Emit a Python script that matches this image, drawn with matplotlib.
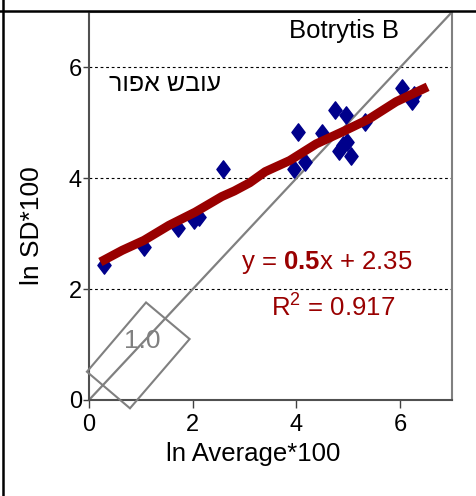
import matplotlib
matplotlib.use("Agg")
import matplotlib.pyplot as plt
from matplotlib.patches import Polygon
from matplotlib.lines import Line2D
from matplotlib.path import Path

plt.rcParams['font.family'] = ['Liberation Sans', 'DejaVu Sans']
plt.rcParams['mathtext.fontset'] = 'custom'
plt.rcParams['mathtext.rm'] = 'Liberation Sans'
plt.rcParams['mathtext.bf'] = 'Liberation Sans:bold'
plt.rcParams['mathtext.it'] = 'Liberation Sans:italic'

# ---- data ----
ln_avg = [0.29, 1.06, 1.72, 2.02, 2.13, 2.58, 3.95, 4.03, 4.17, 4.49, 4.75,
          4.83, 4.90, 4.98, 4.96, 5.05, 5.33, 6.03, 6.22, 6.27]
ln_sd = [2.43, 2.76, 3.10, 3.24, 3.30, 4.16, 4.17, 4.83, 4.29, 4.82, 5.23,
         4.50, 4.60, 4.66, 5.15, 4.41, 5.01, 5.63, 5.39, 5.50]

smooth_x = [0.22, 0.64, 1.06, 1.54, 2.05, 2.56, 2.80, 3.10, 3.40, 3.87, 4.38,
            4.89, 5.40, 5.92, 6.53]
smooth_y = [2.49, 2.70, 2.88, 3.15, 3.39, 3.67, 3.77, 3.92, 4.12, 4.32, 4.62,
            4.84, 5.07, 5.38, 5.65]

identity_x = [0, 7]
identity_y = [0, 7]

slope_box_x = [1.10, 1.94, 0.79, -0.04]
slope_box_y = [1.76, 1.10, -0.15, 0.51]

x_ticks = [0, 2, 4, 6]
y_ticks = [0, 2, 4, 6]
grid_y = [2, 4, 6]

title = "Botrytis B"
hebrew = "עובש אפור"[::-1]
eq_text = r"y = $\mathbf{0.5}$x + 2.35"
r2_text = r"R$^{\mathregular{2}}$ = 0.917"
x_label = "ln Average*100"
y_label = "ln SD*100"

# ---- figure ----
W, H = 477, 496
fig = plt.figure(figsize=(W / 100, H / 100), dpi=100)
ax = fig.add_axes([89 / W, 1 - 400 / H, (452 - 89) / W, (400 - 12) / H])
ax.set_xlim(0, 7)
ax.set_ylim(0, 7)

for y in grid_y:
    ax.axhline(y, color='black', lw=0.8, ls=(0, (2.5, 2.5)), zorder=1)

ax.plot(identity_x, identity_y, color='#808080', lw=1.6, zorder=2)

diamond = Path([(0, 0.5), (0.38, 0), (0, -0.5), (-0.38, 0), (0, 0.5)],
               [Path.MOVETO, Path.LINETO, Path.LINETO, Path.LINETO, Path.CLOSEPOLY])
ax.plot(ln_avg, ln_sd, ls='none', marker=diamond, ms=12.5, color='#00008B',
        mec='#00008B', zorder=3)

ax.plot(smooth_x, smooth_y, color='#990000', lw=6.5, solid_capstyle='butt',
        solid_joinstyle='round', zorder=4)

box = Polygon(list(zip(slope_box_x, slope_box_y)), closed=True, fill=False,
              edgecolor='#808080', lw=1.5, clip_on=False, zorder=5)
ax.add_patch(box)
ax.text(1.02, 1.06, "1.0", color='#808080', fontsize=19, ha='center',
        va='center', zorder=5)

for s in ax.spines.values():
    s.set_color('#808080')
    s.set_linewidth(1.5)
ax.spines['left'].set_color('#505050')
ax.spines['bottom'].set_color('#505050')

ax.set_xticks(x_ticks)
ax.set_yticks(y_ticks)
ax.tick_params(axis='x', direction='out', length=6, width=1, color='#404040',
               labelsize=17, pad=4)
ax.tick_params(axis='y', direction='out', length=4, width=1, color='#404040',
               labelsize=17, pad=1)

fig.text(344 / W, 1 - 31 / H, title, fontsize=18.5, ha='center', va='center')
fig.text(165 / W, 1 - 84 / H, hebrew, fontsize=18, ha='center', va='center')
fig.text(327 / W, 1 - 263 / H, eq_text, fontsize=18.5, ha='center',
         va='center', color='#990000')
fig.text(333 / W, 1 - 308 / H, r2_text, fontsize=18.5, ha='center',
         va='center', color='#990000')
fig.text(253 / W, 1 - 454 / H, x_label, fontsize=18.5, ha='center', va='center')
fig.text(32 / W, 1 - 226 / H, y_label, fontsize=19, ha='center',
         va='center', rotation=90)

# table borders
fig.add_artist(Line2D([0, 1], [1 - 10.5 / H, 1 - 10.5 / H], color='black', lw=1.8,
                      transform=fig.transFigure))
fig.add_artist(Line2D([3 / W, 3 / W], [0, 1], color='black', lw=1.8,
                      transform=fig.transFigure))

fig.savefig("out.png", dpi=100)
